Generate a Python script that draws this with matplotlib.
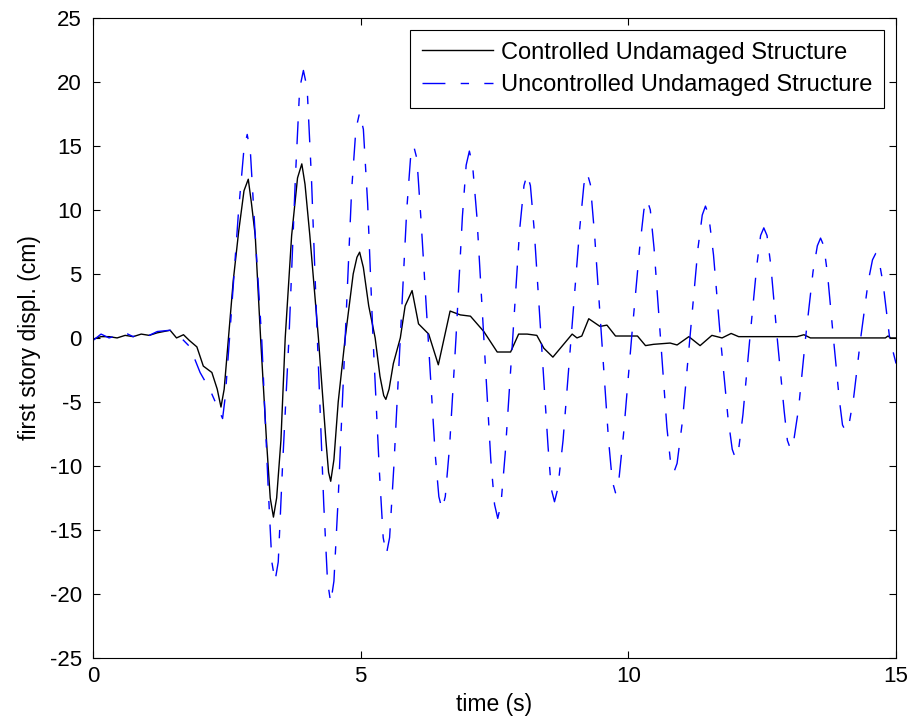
import matplotlib
matplotlib.use("Agg")
from matplotlib import pyplot as plt

plt.rcParams['font.family'] = ['Liberation Sans', 'DejaVu Sans']
plt.rcParams['axes.unicode_minus'] = False

# controlled response (black)
t_ctrl = [0.0, 0.15, 0.3, 0.45, 0.6, 0.75, 0.9, 1.05, 1.2, 1.32, 1.44, 1.56, 1.69,
          1.8, 1.94, 2.06, 2.22, 2.32, 2.39, 2.45, 2.53, 2.62, 2.72, 2.82, 2.9,
          2.96, 3.03, 3.13, 3.24, 3.31, 3.37, 3.43, 3.51, 3.59, 3.71, 3.82, 3.9,
          3.96, 4.05, 4.21, 4.35, 4.4, 4.44, 4.5, 4.58, 4.71, 4.86, 4.93, 4.98,
          5.05, 5.15, 5.27, 5.36, 5.43, 5.47, 5.53, 5.61, 5.74, 5.83, 5.96, 6.08,
          6.27, 6.45, 6.67, 6.86, 7.05, 7.3, 7.55, 7.8, 7.95, 8.11, 8.29, 8.42,
          8.59, 8.79, 8.95, 9.04, 9.13, 9.26, 9.47, 9.6, 9.76, 10.03, 10.17,
          10.32, 10.47, 10.78, 10.91, 11.13, 11.34, 11.56, 11.75, 11.92, 12.06,
          12.5, 13.15, 13.28, 13.4, 14.0, 14.8, 14.85, 14.9, 15.0]
x_ctrl = [-0.1, 0.1, 0.1, 0.0, 0.2, 0.1, 0.3, 0.2, 0.4, 0.5, 0.6, 0.0, 0.25,
          -0.2, -0.7, -2.2, -2.7, -4.0, -5.4, -4.0, 0.0, 4.5, 8.3, 11.5, 12.4,
          10.5, 8.0, 0.0, -8.0, -12.5, -14.0, -12.5, -8.0, 0.0, 8.0, 12.5, 13.6,
          12.0, 8.0, 0.0, -8.0, -10.5, -11.2, -9.5, -5.0, 0.0, 5.0, 6.3, 6.7,
          5.5, 2.5, 0.0, -3.0, -4.5, -4.8, -4.0, -2.0, 0.0, 2.5, 3.7, 1.1,
          0.3, -2.1, 2.1, 1.8, 1.7, 0.5, -1.1, -1.1, 0.3, 0.3, 0.2, -0.8,
          -1.5, -0.5, 0.3, 0.0, 0.15, 1.5, 0.9, 1.0, 0.15, 0.15, 0.15,
          -0.6, -0.5, -0.4, -0.55, 0.1, -0.6, 0.2, 0.0, 0.35, 0.1,
          0.1, 0.1, 0.25, 0.0, 0.0, 0.0, 0.15, 0.0, 0.0]

# uncontrolled response (blue)
t_unc = [0.0, 0.15, 0.3, 0.45, 0.6, 0.75, 0.9, 1.05, 1.2, 1.44, 1.6, 1.81, 2.0, 2.19,
         2.42, 2.47, 2.55, 2.72, 2.82, 2.88, 2.94, 3.03, 3.15, 3.27, 3.34, 3.4,
         3.46, 3.54, 3.66, 3.78, 3.86, 3.93, 4.0, 4.08, 4.19, 4.31, 4.38, 4.44,
         4.5, 4.58, 4.71, 4.83, 4.91, 4.98, 5.05, 5.13, 5.23, 5.35, 5.42, 5.48,
         5.54, 5.62, 5.74, 5.86, 5.93, 5.99, 6.05, 6.13, 6.26, 6.39, 6.46, 6.52,
         6.58, 6.66, 6.78, 6.9, 6.97, 7.03, 7.09, 7.17, 7.3, 7.43, 7.5, 7.56,
         7.62, 7.7, 7.84, 7.97, 8.05, 8.11, 8.17, 8.24, 8.37, 8.5, 8.56, 8.62,
         8.68, 8.78, 8.93, 9.09, 9.17, 9.23, 9.29, 9.37, 9.5, 9.63, 9.7, 9.76,
         9.82, 9.91, 10.06, 10.21, 10.29, 10.35, 10.41, 10.48, 10.6, 10.72,
         10.79, 10.85, 10.91, 11.01, 11.15, 11.3, 11.38, 11.44, 11.5, 11.59,
         11.72, 11.86, 11.94, 12.0, 12.06, 12.14, 12.27, 12.4, 12.47, 12.53,
         12.59, 12.66, 12.78, 12.91, 12.97, 13.03, 13.09, 13.18, 13.31, 13.45,
         13.53, 13.59, 13.65, 13.72, 13.83, 13.94, 14.0, 14.06, 14.12, 14.21,
         14.34, 14.48, 14.56, 14.62, 14.68, 14.76, 14.88, 15.0]
x_unc = [-0.2, 0.3, 0.0, 0.2, 0.4, 0.1, 0.4, 0.2, 0.5, 0.6, 0.2, -0.7, -2.7, -4.1,
         -6.3, -4.6, 0.0, 10.0, 14.8, 15.9, 14.5, 8.0, 0.0, -11.5, -17.5, -19.0,
         -17.5, -10.0, 0.0, 12.5, 19.5, 20.9, 19.5, 12.5, 0.0, -13.0, -19.0, -20.7,
         -19.0, -12.5, 0.0, 11.5, 16.3, 17.6, 16.3, 10.5, 0.0, -10.5, -15.6, -16.9,
         -15.6, -10.0, 0.0, 10.0, 14.0, 15.0, 14.0, 9.0, 0.0, -9.0, -12.4, -13.4,
         -12.4, -8.5, 0.0, 9.5, 13.5, 14.6, 13.5, 9.5, 0.0, -9.5, -13.0, -14.1,
         -13.0, -9.0, 0.0, 8.5, 11.9, 12.8, 11.9, 8.5, 0.0, -8.5, -11.8, -12.8,
         -11.8, -8.0, 0.0, 8.5, 12.0, 12.9, 12.0, 8.0, 0.0, -8.0, -11.2, -12.1,
         -11.2, -7.5, 0.0, 7.0, 10.0, 10.8, 10.0, 7.0, 0.0, -7.0,
         -9.8, -10.5, -9.8, -6.5, 0.0, 7.0, 9.6, 10.3, 9.6, 6.5,
         0.0, -6.2, -8.7, -9.4, -8.7, -6.0, 0.0, 5.7, 8.0, 8.6,
         8.0, 5.7, 0.0, -5.7, -8.0, -8.7, -8.0, -5.5, 0.0, 5.2,
         7.2, 7.8, 7.2, 5.0, 0.0, -4.8, -6.8, -7.3, -6.8, -4.6,
         0.0, 4.4, 6.1, 6.6, 6.1, 4.2, 0.0, -2.0]

fig = plt.figure(figsize=(9.12, 7.19), dpi=100)
ax = fig.add_axes([0.102, 0.085, 0.8805, 0.89])

ax.plot(t_ctrl, x_ctrl, '-', color='k', lw=1.0, label="Controlled Undamaged Structure")
ax.plot(t_unc, x_unc, '-.', color='b', lw=1.0, dashes=(16.5, 11, 6, 11),
        label="Uncontrolled Undamaged Structure")

ax.set_xlim(0, 15)
ax.set_ylim(-25, 25)
ax.set_xticks([0, 5, 10, 15])
ax.set_yticks(range(-25, 26, 5))
ax.tick_params(direction='in', top=True, right=True, length=5, labelsize=16)
ax.tick_params(axis='x', pad=6)
ax.tick_params(axis='y', pad=8)
ax.set_xlabel('time (s)', size=16.5, labelpad=4)
ax.set_ylabel('first story displ. (cm)', size=16.5, labelpad=6)

leg = ax.legend(loc=1, fancybox=False, edgecolor='k', framealpha=1,
                prop={'size': 17}, handlelength=3.0, handletextpad=0.35,
                borderaxespad=0.5, borderpad=0.5, labelspacing=0.45)
leg.get_frame().set_linewidth(0.8)

plt.savefig('out.png', dpi=100)
